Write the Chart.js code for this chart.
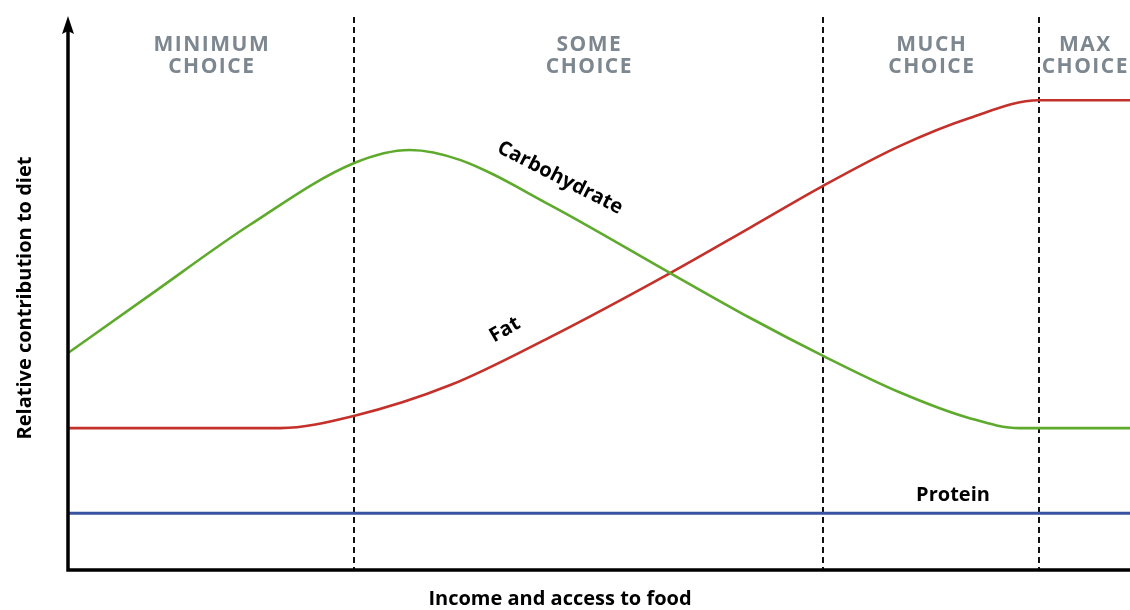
<!DOCTYPE html>
<html>
<head>
<meta charset="utf-8">
<script src="https://cdn.jsdelivr.net/npm/chart.js@4"></script>
<style>
  html, body { margin: 0; padding: 0; background: #fff; }
  #wrap { width: 1130px; height: 610px; }
</style>
</head>
<body>
<div id="wrap"><canvas id="diet"></canvas></div>
<script>
// income / access to food (0-100), relative contribution (0-100)
const carbX = [0, 7.7, 17.1, 26.9, 32.2, 36.9, 45.4, 56.7, 64.2, 71.1, 78.3, 84.9, 89.6, 100];
const carbY = [39.3, 49.8, 62.5, 73.7, 76.1, 74.3, 66.1, 53.8, 45.7, 38.8, 32.2, 27.5, 25.7, 25.7];
const fatX = [0, 20, 26.9, 36, 45.4, 56.7, 64.2, 71.1, 78.3, 84.9, 91.4, 100];
const fatY = [25.7, 25.7, 27.9, 33.5, 42.2, 53.8, 62, 69.6, 76.8, 81.9, 85.1, 85.1];
const proteinX = [0, 100];
const proteinY = [10.3, 10.3];

const zoneBounds = [26.9, 71.1, 91.4];
const zoneLabels = [["MINIMUM", "CHOICE"], ["SOME", "CHOICE"], ["MUCH", "CHOICE"], ["MAX", "CHOICE"]];

function toPoints(xs, ys) {
  return xs.map((x, i) => ({ x: x, y: ys[i] }));
}

const decorations = {
  id: "decorations",
  beforeDatasetsDraw(chart) {
    const ctx = chart.ctx;
    const a = chart.chartArea;
    const xs = chart.scales.x;
    ctx.save();
    // zone separators
    ctx.strokeStyle = "#111";
    ctx.lineWidth = 2;
    ctx.setLineDash([6, 4]);
    zoneBounds.forEach(function (v) {
      const px = Math.round(xs.getPixelForValue(v));
      ctx.beginPath();
      ctx.moveTo(px, a.top - 1);
      ctx.lineTo(px, a.bottom);
      ctx.stroke();
    });
    ctx.setLineDash([]);
    // zone labels
    const edges = [xs.min].concat(zoneBounds, [xs.max]);
    ctx.fillStyle = "#7d8790";
    ctx.font = "bold 21px 'Open Sans', 'Noto Sans', sans-serif";
    ctx.letterSpacing = "1.5px";
    ctx.textAlign = "center";
    ctx.textBaseline = "alphabetic";
    zoneLabels.forEach(function (lines, i) {
      const cx = (xs.getPixelForValue(edges[i]) + xs.getPixelForValue(edges[i + 1])) / 2;
      ctx.fillText(lines[0], cx + 1, 51);
      ctx.fillText(lines[1], cx + 1, 73);
    });
    ctx.restore();
  },
  afterDatasetsDraw(chart) {
    const ctx = chart.ctx;
    const a = chart.chartArea;
    ctx.save();
    // axes
    ctx.strokeStyle = "#000";
    ctx.lineWidth = 3.5;
    ctx.beginPath();
    ctx.moveTo(a.left, 30);
    ctx.lineTo(a.left, a.bottom);
    ctx.lineTo(a.right, a.bottom);
    ctx.stroke();
    ctx.fillStyle = "#000";
    ctx.beginPath();
    ctx.moveTo(a.left, 16);
    ctx.lineTo(a.left - 6, 34);
    ctx.lineTo(a.left, 31);
    ctx.lineTo(a.left + 6, 34);
    ctx.closePath();
    ctx.fill();

    // axis titles
    ctx.font = "bold 20px 'Open Sans', 'Noto Sans', sans-serif";
    ctx.textAlign = "center";
    ctx.textBaseline = "middle";
    ctx.fillText("Income and access to food", 560, 599);
    ctx.save();
    ctx.translate(25, 298);
    ctx.rotate(-Math.PI / 2);
    ctx.fillText("Relative contribution to diet", 0, 0);
    ctx.restore();

    // series labels
    ctx.font = "bold 20px 'Open Sans', 'Noto Sans', sans-serif";
    ctx.save();
    ctx.translate(560, 178);
    ctx.rotate(27 * Math.PI / 180);
    ctx.fillText("Carbohydrate", 0, 0);
    ctx.restore();
    ctx.save();
    ctx.translate(505, 330);
    ctx.rotate(-30 * Math.PI / 180);
    ctx.fillText("Fat", 0, 0);
    ctx.restore();
    ctx.fillText("Protein", 953, 495);
    ctx.restore();
  }
};

new Chart(document.getElementById("diet"), {
  type: "line",
  data: {
    datasets: [
      {
        label: "Carbohydrate",
        data: toPoints(carbX, carbY),
        borderColor: "#5eaa2c",
        borderWidth: 2.6,
        cubicInterpolationMode: "monotone",
        pointRadius: 0
      },
      {
        label: "Fat",
        data: toPoints(fatX, fatY),
        borderColor: "#c4302a",
        borderWidth: 2.6,
        cubicInterpolationMode: "monotone",
        pointRadius: 0
      },
      {
        label: "Protein",
        data: toPoints(proteinX, proteinY),
        borderColor: "#3a53a0",
        borderWidth: 3,
        pointRadius: 0
      }
    ]
  },
  options: {
    responsive: true,
    maintainAspectRatio: false,
    animation: false,
    layout: { padding: { left: 68, right: 0, top: 18, bottom: 40 } },
    plugins: { legend: { display: false }, tooltip: { enabled: false } },
    scales: {
      x: { type: "linear", min: 0, max: 100, display: false },
      y: { type: "linear", min: 0, max: 100, display: false }
    }
  },
  plugins: [decorations]
});
</script>
</body>
</html>
